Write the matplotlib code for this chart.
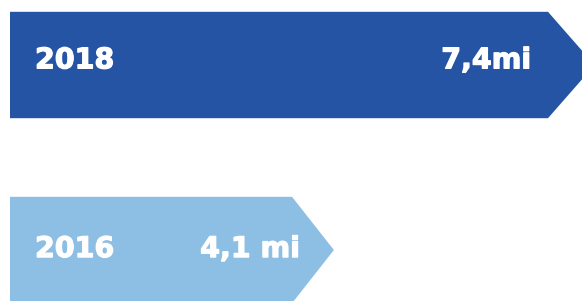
import matplotlib
matplotlib.use('Agg')

import matplotlib.pyplot as plt
import matplotlib.patheffects as pe
from matplotlib.patches import Polygon

# data
years = ['2018', '2016']
values = [7.4, 4.1]
value_labels = ['7,4mi', '4,1 mi']

# style
colors = ['#2554A4', '#8DBEE3']
bar_height = 0.575
tip_lengths = [0.59, 0.53]       # arrow head length, value units
label_insets = [0.805, 0.43]     # right edge of value label, back from the tip
text_dy = [-0.025, -0.005]       # nudge labels up a little

fig = plt.figure(figsize=(5.82, 3.01), dpi=100)
ax = fig.add_axes([0, 0, 1, 1])

px = 79.0  # pixels per unit
ax.set_xlim(-10 / px, 572 / px)
ax.set_ylim(1 + 51 / 185, -65 / 185)
ax.axis('off')

stroke = [pe.withStroke(linewidth=0.9, foreground='white')]
for i, (yr, v, lab) in enumerate(zip(years, values, value_labels)):
    t = tip_lengths[i]
    h = bar_height / 2
    pts = [(0, i - h), (v - t, i - h), (v, i), (v - t, i + h), (0, i + h)]
    ax.add_patch(Polygon(pts, closed=True, facecolor=colors[i], edgecolor='none'))
    ty = i + text_dy[i]
    ax.text(25 / px, ty, yr, color='white', fontsize=20.5, fontweight='bold',
            ha='left', va='center', family='DejaVu Sans', path_effects=stroke)
    ax.text(v - label_insets[i], ty, lab, color='white', fontsize=20.5, fontweight='bold',
            ha='right', va='center', family='DejaVu Sans', path_effects=stroke)

fig.savefig('out.png', dpi=100, facecolor='white')
